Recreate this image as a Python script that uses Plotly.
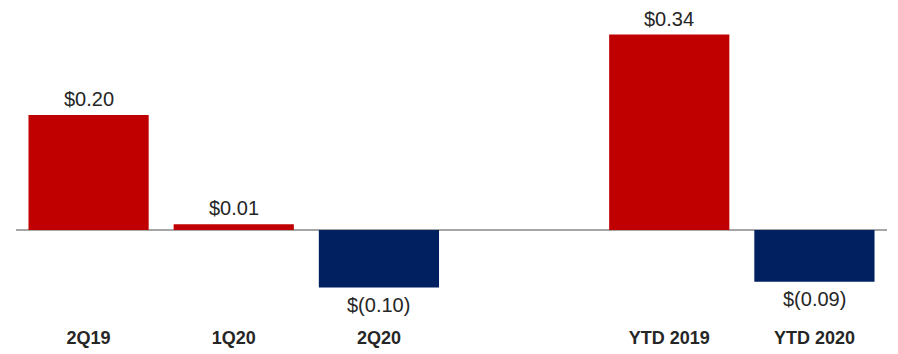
import plotly.graph_objects as go

categories = ["2Q19", "1Q20", "2Q20", " ", "YTD 2019", "YTD 2020"]
values = [0.20, 0.01, -0.10, None, 0.34, -0.09]

RED = "#C00000"
NAVY = "#002060"
FONT = "Liberation Sans Narrow, Arial Narrow, Liberation Sans, sans-serif"
TXT = "#262626"

def fmt(v):
    if v is None:
        return ""
    return f"${v:.2f}" if v >= 0 else f"$({abs(v):.2f})"

colors = [RED if (v is None or v >= 0) else NAVY for v in values]

fig = go.Figure(go.Bar(
    x=categories, y=values,
    marker=dict(color=colors, line=dict(width=0)),
    hoverinfo="skip",
))

for c, v in zip(categories, values):
    if v is None:
        continue
    fig.add_annotation(
        x=c, y=v, text=fmt(v), showarrow=False,
        yanchor="bottom" if v >= 0 else "top",
        yshift=3 if v >= 0 else -4,
        font=dict(family=FONT, size=20, color=TXT),
    )

fig.update_layout(
    width=898, height=354,
    margin=dict(l=16, r=11, t=0, b=34),
    paper_bgcolor="white", plot_bgcolor="white",
    bargap=0.172,
    showlegend=False,
    xaxis=dict(
        type="category", range=[-0.5, 5.5],
        showgrid=False, showline=False, ticks="",
        tickfont=dict(family=FONT, size=18, color=TXT, weight="bold"),
        ticklabelstandoff=5,
    ),
    yaxis=dict(
        range=[-0.1565, 0.4], showgrid=False, showticklabels=False,
        zeroline=True, zerolinecolor="#A6A6A6", zerolinewidth=2,
        showline=False, ticks="",
    ),
)

fig.write_html("out.html")
